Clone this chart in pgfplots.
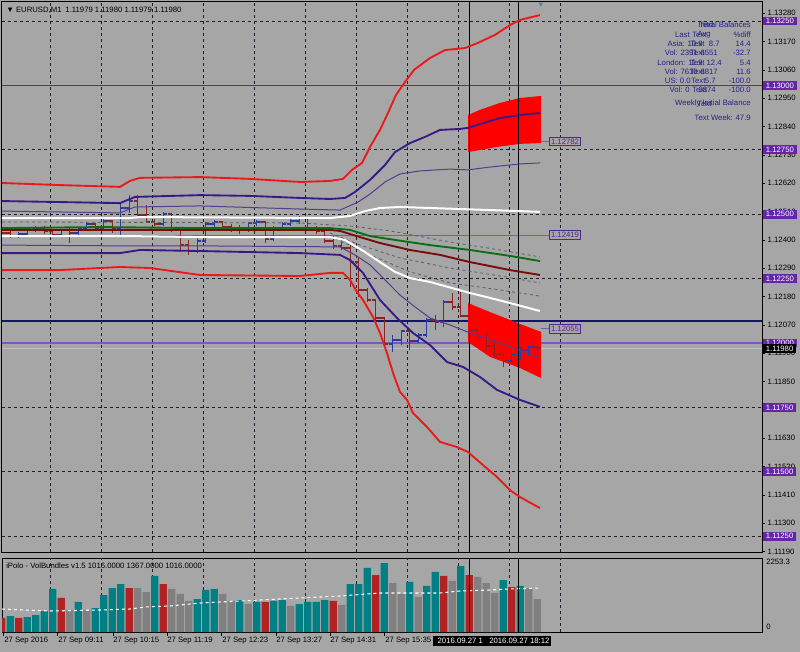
\documentclass[border=0pt]{standalone}
\usepackage{pgfplots}
\pgfplotsset{compat=1.18}
\usepackage{pgfplotstable}
\usepackage{fontspec}
\setmainfont{Liberation Sans}
\newcommand{\fs}{\fontsize{5.8}{6.5}\selectfont}
\definecolor{bg}{RGB}{166,166,166}
\definecolor{bandred}{RGB}{235,25,25}
\definecolor{bandnavy}{RGB}{55,25,135}
\definecolor{thinpurple}{RGB}{85,60,140}
\definecolor{mgreen}{RGB}{10,110,20}
\definecolor{mmaroon}{RGB}{125,10,10}
\definecolor{dashgray}{RGB}{95,90,100}
\definecolor{bullc}{RGB}{40,60,165}
\definecolor{bearc}{RGB}{140,35,35}
\definecolor{hnavy}{RGB}{20,20,110}
\definecolor{hpurple}{RGB}{75,55,130}
\definecolor{lpurple}{RGB}{120,90,190}
\definecolor{bidline}{RGB}{190,185,205}
\definecolor{lvl}{RGB}{102,36,170}
\definecolor{tb}{RGB}{35,35,140}
\definecolor{vteal}{RGB}{0,128,132}
\definecolor{vred}{RGB}{178,34,34}
\definecolor{vgray}{RGB}{128,128,128}
\definecolor{gridc}{RGB}{30,30,40}
\definecolor{labc}{RGB}{80,40,140}

\pgfplotstableread{
x o h l c
18.8 1.12415 1.12431 1.12408 1.12423
27.3 1.12423 1.12446 1.12415 1.12443
35.8 1.12443 1.12454 1.12431 1.12446
61.3 1.12419 1.12443 1.12411 1.12439
78.3 1.12427 1.12450 1.12419 1.12446
86.8 1.12446 1.12470 1.12439 1.12462
103.8 1.12443 1.12481 1.12435 1.12474
120.8 1.12443 1.12544 1.12419 1.12524
129.3 1.12524 1.12575 1.12505 1.12551
163.3 1.12462 1.12509 1.12454 1.12501
197.3 1.12357 1.12408 1.12349 1.12396
205.8 1.12396 1.12470 1.12388 1.12462
214.3 1.12462 1.12478 1.12446 1.12470
248.3 1.12439 1.12470 1.12431 1.12466
256.8 1.12466 1.12478 1.12454 1.12470
273.8 1.12404 1.12454 1.12396 1.12446
282.3 1.12446 1.12470 1.12439 1.12462
290.8 1.12462 1.12481 1.12454 1.12474
299.3 1.12474 1.12493 1.12462 1.12485
392.8 1.11996 1.12031 1.11965 1.12012
401.3 1.12012 1.12051 1.11992 1.12047
418.3 1.12008 1.12039 1.12000 1.12031
426.8 1.12031 1.12097 1.12023 1.12089
443.8 1.12082 1.12167 1.12062 1.12159
511.8 1.11930 1.11965 1.11923 1.11954
520.3 1.11954 1.11985 1.11934 1.11973
528.8 1.11973 1.11992 1.11954 1.11985
}\bulltab

\pgfplotstableread{
x o h l c
1.8 1.12443 1.12454 1.12419 1.12427
10.3 1.12427 1.12435 1.12408 1.12415
44.3 1.12446 1.12454 1.12423 1.12435
52.8 1.12435 1.12443 1.12411 1.12419
69.8 1.12439 1.12446 1.12388 1.12427
95.3 1.12462 1.12466 1.12435 1.12443
112.3 1.12474 1.12478 1.12427 1.12443
137.8 1.12551 1.12575 1.12489 1.12497
146.3 1.12497 1.12536 1.12466 1.12470
154.8 1.12470 1.12481 1.12454 1.12462
171.8 1.12501 1.12505 1.12431 1.12439
180.3 1.12439 1.12443 1.12353 1.12380
188.8 1.12380 1.12400 1.12342 1.12357
222.8 1.12470 1.12474 1.12439 1.12450
231.3 1.12450 1.12462 1.12431 1.12446
239.8 1.12446 1.12458 1.12423 1.12439
265.3 1.12470 1.12474 1.12388 1.12404
307.8 1.12485 1.12489 1.12439 1.12446
316.3 1.12446 1.12454 1.12423 1.12435
324.8 1.12435 1.12443 1.12388 1.12396
333.3 1.12396 1.12415 1.12365 1.12377
341.8 1.12377 1.12400 1.12361 1.12369
350.3 1.12369 1.12380 1.12217 1.12314
358.8 1.12314 1.12330 1.12179 1.12206
367.3 1.12206 1.12214 1.12159 1.12167
375.8 1.12167 1.12171 1.12089 1.12097
384.3 1.12097 1.12101 1.11992 1.11996
409.8 1.12047 1.12051 1.11973 1.12008
435.3 1.12089 1.12109 1.12051 1.12082
452.3 1.12159 1.12194 1.12128 1.12140
460.8 1.12140 1.12198 1.12101 1.12105
469.3 1.12105 1.12128 1.12039 1.12051
477.8 1.12051 1.12062 1.12012 1.12020
486.3 1.12020 1.12043 1.11973 1.11988
494.8 1.11988 1.12012 1.11942 1.11954
503.3 1.11954 1.11961 1.11907 1.11930
537.3 1.11985 1.12000 1.11942 1.11980
}\beartab

\begin{document}
\begin{tikzpicture}
\useasboundingbox (0,0) rectangle (600pt,-489pt);
\fill[bg] (0,0) rectangle (600pt,-489pt);

\begin{axis}[
  at={(1.5pt,-1.5pt)}, anchor=north west,
  width=570pt, height=412.5pt, scale only axis,
  xmin=2, xmax=762, ymin=1.111886, ymax=1.133237,
  axis line style={black, line width=0.75pt},
  xtick=\empty,
  ytick={1.1119,1.113,1.1141,1.1152,1.1163,1.1174,1.1185,1.1196,1.1207,1.1218,1.1229,1.124,1.1251,1.1262,1.1273,1.1284,1.1295,1.1306,1.1317,1.1328},
  yticklabels={1.11190,1.11300,1.11410,1.11520,1.11630,1.11740,1.11850,1.11960,1.12070,1.12180,1.12290,1.12400,1.12510,1.12620,1.12730,1.12840,1.12950,1.13060,1.13170,1.13280},
  ytick pos=right, yticklabel pos=right,
  tick align=outside, major tick length=2.25pt,
  tick style={black, line width=0.6pt},
  yticklabel style={font=\fs, anchor=west, xshift=-1.5pt},
  extra x ticks={50,101,152,203,254,305,356,407,458,509,560},
  extra x tick labels={},
  extra x tick style={grid=major, major tick length=0pt},
  extra y ticks={1.1125,1.115,1.1175,1.12,1.1225,1.125,1.1275,1.13,1.1325},
  extra y tick labels={},
  extra y tick style={grid=major, major tick length=0pt},
  major grid style={gridc, line width=0.6pt, dash pattern=on 2.25pt off 2.25pt},
]
% horizontal objects
\addplot[hpurple, line width=0.9pt] coordinates {(2,1.13)(762,1.13)};
\addplot[hnavy, line width=1pt] coordinates {(2,1.12085)(762,1.12085)};
\addplot[lpurple, line width=0.9pt] coordinates {(2,1.12)(762,1.12)};
\addplot[bidline, line width=0.6pt] coordinates {(2,1.1198)(762,1.1198)};
\addplot[lpurple, line width=0.8pt] coordinates {(2,1.12419)(549,1.12419)};
\addplot[lpurple, line width=0.6pt] coordinates {(541,1.12782)(549,1.12782)};
\addplot[lpurple, line width=0.6pt] coordinates {(541,1.12055)(549,1.12055)};
% red zones
\addplot[fill=red, draw=none] coordinates {(468,1.12885)(480,1.12905)(500,1.12932)(520,1.12951)(541,1.12959)(541,1.12776)(520,1.12773)(497,1.12761)(468,1.12741)} -- cycle;
\addplot[fill=red, draw=none] coordinates {(468,1.12155)(490,1.12120)(520,1.12074)(541,1.12043)(541,1.11864)(520,1.11903)(490,1.11946)(468,1.12004)} -- cycle;
% vertical lines
\addplot[black, line width=0.7pt] coordinates {(469,1.111886)(469,1.133237)};
\addplot[black, line width=0.7pt] coordinates {(518,1.111886)(518,1.133237)};
% OHLC bars
\addplot[bullc, line width=1pt, quiver={u=0, v=\thisrow{h}-\thisrow{l}}] table[x=x, y=l] {\bulltab};
\addplot[bullc, line width=1pt, quiver={u=-4, v=0}] table[x=x, y=o] {\bulltab};
\addplot[bullc, line width=1pt, quiver={u=4, v=0}] table[x=x, y=c] {\bulltab};
\addplot[bearc, line width=1pt, quiver={u=0, v=\thisrow{h}-\thisrow{l}}] table[x=x, y=l] {\beartab};
\addplot[bearc, line width=1pt, quiver={u=-4, v=0}] table[x=x, y=o] {\beartab};
\addplot[bearc, line width=1pt, quiver={u=4, v=0}] table[x=x, y=c] {\beartab};
% dashed lines
\addplot[dashgray, line width=0.6pt, dash pattern=on 2.25pt off 2.25pt] coordinates {(2,1.12470)(300,1.12466)(350,1.12454)(390,1.12435)(450,1.12392)(500,1.12361)(540,1.12334)};
\addplot[dashgray, line width=0.6pt, dash pattern=on 2.25pt off 2.25pt] coordinates {(330,1.12427)(360,1.12380)(400,1.12330)(450,1.12291)(500,1.12260)(540,1.12233)};
\addplot[dashgray, line width=0.6pt, dash pattern=on 2.25pt off 2.25pt] coordinates {(330,1.12415)(370,1.12342)(410,1.12276)(450,1.12233)(500,1.12206)(540,1.12182)};
% bands
\addplot[bandred, line width=1.4pt] coordinates {(2,1.12621)(60,1.12613)(120,1.12606)(130,1.12629)(140,1.12641)(200,1.12644)(250,1.12637)(300,1.12625)(330,1.12629)(343,1.12637)(352,1.12672)(362,1.12699)(370,1.12761)(380,1.12827)(388,1.12893)(396,1.12963)(405,1.13013)(414,1.13060)(430,1.13106)(445,1.13137)(465,1.13145)(478,1.13165)(495,1.13196)(510,1.13234)(520,1.13254)(540,1.13273)};
\addplot[bandnavy, line width=1.4pt] coordinates {(2,1.12551)(120,1.12543)(135,1.12567)(200,1.12574)(250,1.12571)(300,1.12563)(330,1.12559)(345,1.12563)(355,1.12586)(370,1.12633)(385,1.12691)(395,1.12741)(410,1.12776)(425,1.12800)(440,1.12827)(460,1.12831)(468,1.12835)(480,1.12850)(500,1.12873)(520,1.12885)(540,1.12893)};
\addplot[thinpurple, line width=0.75pt] coordinates {(2,1.12512)(120,1.12505)(135,1.12528)(200,1.12532)(300,1.12520)(340,1.12516)(358,1.12547)(370,1.12578)(385,1.12625)(400,1.12656)(420,1.12668)(450,1.12675)(468,1.12672)(490,1.12683)(520,1.12695)(540,1.12699)};
\addplot[white, line width=1.5pt] coordinates {(2,1.12485)(130,1.12485)(140,1.12489)(330,1.12485)(350,1.12493)(365,1.12512)(380,1.12524)(400,1.12528)(430,1.12524)(460,1.12520)(490,1.12516)(540,1.12509)};
\addplot[white, line width=1.5pt] coordinates {(2,1.12415)(130,1.12415)(200,1.12411)(330,1.12411)(345,1.12400)(365,1.12353)(380,1.12314)(395,1.12276)(410,1.12252)(430,1.12237)(455,1.12210)(470,1.12194)(490,1.12175)(510,1.12155)(540,1.12124)};
\addplot[mmaroon, line width=1.4pt] coordinates {(2,1.12439)(200,1.12439)(330,1.12439)(340,1.12435)(360,1.12411)(380,1.12388)(410,1.12361)(440,1.12342)(470,1.12314)(510,1.12283)(540,1.12264)};
\addplot[mgreen, line width=1.4pt] coordinates {(2,1.12446)(100,1.12450)(200,1.12446)(330,1.12446)(350,1.12439)(370,1.12415)(395,1.12400)(430,1.12380)(470,1.12361)(510,1.12338)(540,1.12318)};
\addplot[thinpurple, line width=0.75pt] coordinates {(2,1.12380)(120,1.12377)(200,1.12377)(340,1.12373)(355,1.12342)(370,1.12303)(385,1.12245)(400,1.12186)(415,1.12140)(430,1.12097)(450,1.12070)(470,1.12039)(500,1.12000)(540,1.11942)};
\addplot[bandnavy, line width=1.4pt] coordinates {(2,1.12349)(120,1.12349)(140,1.12361)(200,1.12357)(300,1.12349)(340,1.12342)(350,1.12322)(363,1.12272)(380,1.12167)(397,1.12097)(413,1.12039)(430,1.11992)(447,1.11926)(463,1.11907)(480,1.11868)(497,1.11818)(520,1.11779)(540,1.11752)};
\addplot[bandred, line width=1.4pt] coordinates {(2,1.12283)(60,1.12283)(120,1.12295)(150,1.12291)(200,1.12264)(300,1.12260)(330,1.12272)(343,1.12272)(350,1.12245)(357,1.12198)(363,1.12167)(373,1.12101)(380,1.12039)(387,1.11961)(393,1.11884)(400,1.11810)(407,1.11779)(413,1.11728)(427,1.11674)(440,1.11616)(457,1.11596)(468,1.11577)(483,1.11526)(497,1.11480)(510,1.11429)(520,1.11402)(540,1.11359)};
\end{axis}

\begin{axis}[
  at={(1.5pt,-418.5pt)}, anchor=north west,
  width=570pt, height=55.5pt, scale only axis,
  xmin=2, xmax=762, ymin=0, ymax=2350,
  axis line style={black, line width=0.75pt},
  xtick={3,57,113,167,221,276,330,384}, xticklabels={},
  xtick pos=left, tick align=outside, major tick length=3pt,
  tick style={black, line width=0.6pt},
  ytick=\empty,
  extra x ticks={50,101,152,203,254,305,356,407,458,509,560},
  extra x tick labels={},
  extra x tick style={grid=major, major tick length=0pt},
  major grid style={gridc, line width=0.6pt, dash pattern=on 2.25pt off 2.25pt},
]
\addplot[ybar, bar width=7.3, bar shift=0pt, fill=vteal, draw=none] coordinates {(10.3,508)(27.3,476)(35.8,540)(44.3,667)(52.8,1366)(78.3,953)(95.3,762)(103.8,1175)(112.3,1397)(120.8,1524)(154.8,1779)(197.3,1048)(205.8,1334)(214.3,1366)(239.8,1016)(256.8,953)(273.8,985)(282.3,1016)(299.3,889)(307.8,953)(316.3,953)(324.8,1016)(350.3,1524)(358.8,1524)(367.3,2033)(384.3,2191)(409.8,1588)(426.8,1461)(435.3,1906)(460.8,2096)(503.3,1651)(520.3,1461)};
\addplot[ybar, bar width=7.3, bar shift=0pt, fill=vred, draw=none] coordinates {(1.8,445)(18.8,445)(61.3,1080)(129.3,1397)(163.3,1524)(265.3,953)(333.3,985)(375.8,1810)(443.8,1779)(469.3,1810)(511.8,1429)};
\addplot[ybar, bar width=7.3, bar shift=0pt, fill=vgray, draw=none] coordinates {(69.8,699)(86.8,699)(137.8,1397)(146.3,1270)(171.8,1366)(180.3,1207)(188.8,985)(222.8,1207)(231.3,985)(248.3,889)(290.8,826)(341.8,858)(392.8,1556)(401.3,1207)(418.3,1112)(452.3,1620)(477.8,1747)(486.3,1556)(494.8,1239)(528.8,1397)(537.3,1048)};
\addplot[white, line width=0.8pt, dash pattern=on 2.25pt off 2.25pt] coordinates {(2,730)(50,667)(100,699)(130,730)(145,794)(170,826)(200,921)(260,1016)(300,1080)(340,1143)(380,1239)(400,1239)(440,1239)(460,1302)(490,1334)(510,1366)(540,1397)};
\addplot[black, line width=0.7pt] coordinates {(469,0)(469,2350)};
\addplot[black, line width=0.7pt] coordinates {(518,0)(518,2350)};
\end{axis}

\begin{scope}[x=0.75pt, y=-0.75pt, every node/.style={font=\fs, inner sep=0pt}]
% titles
\node[anchor=west] at (6,10) {▼ EURUSD,M1\enspace 1.11979 1.11980 1.11979 1.11980};
\node[anchor=west] at (6,566) {iPolo - VolBundles v1.5 1016.0000 1367.0000 1016.0000};
\node[text={rgb,255:red,110;green,125;blue,150}] at (541,5) {▼};
% info panel
\node[tb,anchor=east] at (751,25) {Initial Balances};
\node[tb,anchor=west] at (699,25) {Text};
\node[tb,anchor=east] at (690,35) {Last};
\node[tb,anchor=west] at (692,35) {Text};
\node[tb,anchor=east] at (711,35) {Avg};
\node[tb,anchor=east] at (751,35) {\%diff};
\node[tb,anchor=east] at (703,44) {Asia: 10.9};
\node[tb,anchor=west] at (690,44) {Text};
\node[tb,anchor=east] at (720,44) {8.7};
\node[tb,anchor=east] at (751,44) {14.4};
\node[tb,anchor=east] at (698,53) {Vol: 2391};
\node[tb,anchor=west] at (690,53) {Text};
\node[tb,anchor=east] at (718,53) {6551};
\node[tb,anchor=east] at (751,53) {-32.7};
\node[tb,anchor=east] at (703,63) {London: 11.9};
\node[tb,anchor=west] at (690,63) {Text};
\node[tb,anchor=east] at (722,63) {12.4};
\node[tb,anchor=east] at (751,63) {5.4};
\node[tb,anchor=east] at (698,72) {Vol: 7610};
\node[tb,anchor=west] at (690,72) {Text};
\node[tb,anchor=east] at (718,72) {6817};
\node[tb,anchor=east] at (751,72) {11.6};
\node[tb,anchor=east] at (691,81) {US: 0.0};
\node[tb,anchor=west] at (691,81) {Text};
\node[tb,anchor=east] at (716,81) {5.7};
\node[tb,anchor=east] at (751,81) {-100.0};
\node[tb,anchor=east] at (690,90) {Vol: 0};
\node[tb,anchor=west] at (692,90) {Text};
\node[tb,anchor=east] at (716,90) {2874};
\node[tb,anchor=east] at (751,90) {-100.0};
\node[tb,anchor=east] at (751,104) {Weekly Initial Balance};
\node[tb,anchor=west] at (697,104) {Text};
\node[tb,anchor=east] at (751,118) {Text Week: 47.9};
% object labels
\node[anchor=west, draw=labc, line width=0.6pt, fill=bg, text=labc, inner sep=1.2pt] at (549,141.5) {1.12782};
\node[anchor=west, draw=labc, line width=0.6pt, fill=bg, text=labc, inner sep=1.2pt] at (549,235.1) {1.12419};
\node[anchor=west, draw=labc, line width=0.6pt, fill=bg, text=labc, inner sep=1.2pt] at (549,328.9) {1.12055};
% level labels on price scale
\foreach \yy/\tt in {21.0/1.13250, 85.4/1.13000, 149.8/1.12750, 214.2/1.12500, 278.6/1.12250, 343.0/1.12000, 407.4/1.11750, 471.8/1.11500, 536.2/1.11250}{
  \node[anchor=west, fill=lvl, text=white, inner xsep=2pt, inner ysep=1.2pt] at (763,\yy) {\tt};
}
\node[anchor=west, fill=black, text=white, inner xsep=2pt, inner ysep=1.2pt] at (763,348.5) {1.11980};
% volume scale
\node[anchor=west] at (766,562) {2253.3};
\node[anchor=west] at (766,627) {0};
% time labels
\node[anchor=west] at (4,641) {27 Sep 2016};
\node[anchor=west] at (58,641) {27 Sep 09:11};
\node[anchor=west] at (113,641) {27 Sep 10:15};
\node[anchor=west] at (167,641) {27 Sep 11:19};
\node[anchor=west] at (222,641) {27 Sep 12:23};
\node[anchor=west] at (276,641) {27 Sep 13:27};
\node[anchor=west] at (330,641) {27 Sep 14:31};
\node[anchor=west] at (385,641) {27 Sep 15:35};
\node[anchor=west, fill=black, text=white, inner xsep=1.5pt, inner ysep=1.5pt, minimum width=54pt*0.75] at (433,641) {2016.09.27 1};
\node[anchor=west, fill=black, text=white, inner xsep=1.5pt, inner ysep=1.5pt] at (487,641) {2016.09.27 18:12};
\end{scope}
\end{tikzpicture}
\end{document}
